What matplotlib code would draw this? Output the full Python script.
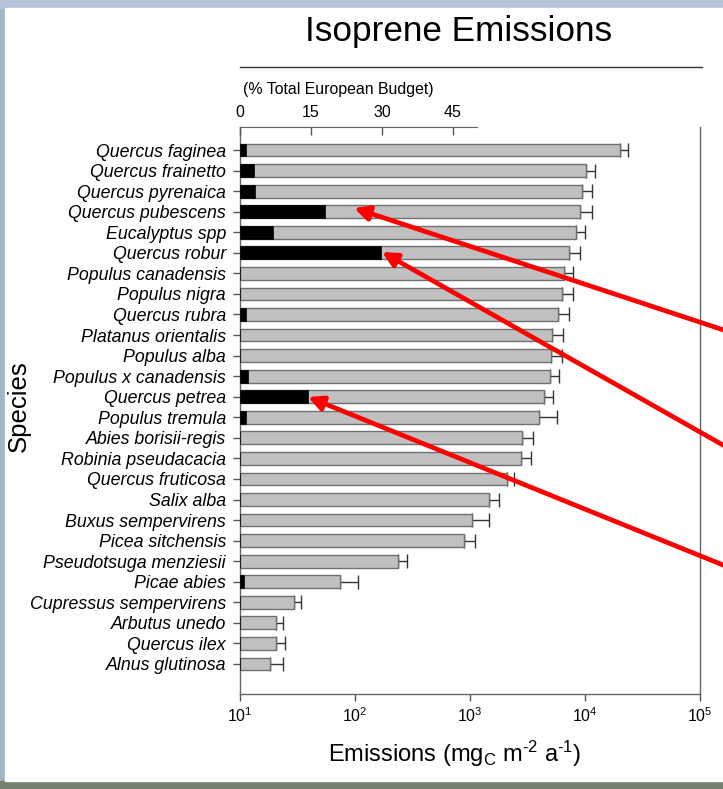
import numpy as np
import matplotlib
matplotlib.use("Agg")
import matplotlib.pyplot as plt
from matplotlib.patches import Rectangle
from matplotlib.lines import Line2D

plt.rcParams['font.family'] = ['Liberation Sans', 'DejaVu Sans']
plt.rcParams['mathtext.fontset'] = 'custom'
plt.rcParams['mathtext.rm'] = 'Liberation Sans'
plt.rcParams['mathtext.it'] = 'Liberation Sans:italic'

species = ["Quercus faginea", "Quercus frainetto", "Quercus pyrenaica", "Quercus pubescens",
           "Eucalyptus spp", "Quercus robur", "Populus canadensis", "Populus nigra",
           "Quercus rubra", "Platanus orientalis", "Populus alba", "Populus x canadensis",
           "Quercus petrea", "Populus tremula", "Abies borisii-regis", "Robinia pseudacacia",
           "Quercus fruticosa", "Salix alba", "Buxus sempervirens", "Picea sitchensis",
           "Pseudotsuga menziesii", "Picae abies", "Cupressus sempervirens", "Arbutus unedo",
           "Quercus ilex", "Alnus glutinosa"]
emissions = [20100, 10200, 9360, 9130, 8420, 7320, 6610, 6310, 5820, 5170, 5100, 4930,
             4370, 4010, 2850, 2780, 2110, 1470, 1035, 893, 237, 74, 29.5, 20.7, 20.7, 18.1]
emissions_upper = [23850, 12200, 11400, 11400, 10000, 9050, 7810, 7810, 7320, 6480, 6270, 5990,
                   5310, 5750, 3560, 3390, 2430, 1790, 1460, 1100, 285, 107, 33.7, 23.7, 24.8, 23.5]
budget_pct = [1.3, 3.0, 3.2, 17.9, 6.9, 29.8, 0, 0, 1.3, 0, 0, 1.7, 14.3, 1.3,
              0, 0, 0, 0, 0, 0, 0, 0.85, 0, 0, 0, 0]
pct_ticks = [0, 15, 30, 45]
log_ticks = [10, 100, 1000, 10000, 100000]

W, H = 723, 789
fig = plt.figure(figsize=(W / 100, H / 100), dpi=100, facecolor='#a3b3c8')

def px_rect(x0, y0, x1, y1, color):
    fig.patches.append(Rectangle((x0 / W, 1 - y1 / H), (x1 - x0) / W, (y1 - y0) / H,
                                 transform=fig.transFigure, color=color, zorder=-10))

px_rect(0, 781, W, H, '#74816e')
px_rect(0, 0, W, 8, '#b7c3d6')
px_rect(5, 8, W, 781, 'white')

ax = fig.add_axes([240 / W, 1 - 694 / H, 460 / W, (694 - 127) / H])
ax.set_facecolor('none')
pos = np.arange(len(species))
em = np.array(emissions)
err = np.array(emissions_upper) - em

ax.barh(pos, em, left=0, height=0.62, color='#c0c0c0', edgecolor='#707070', linewidth=1.0, zorder=2)
ax.errorbar(em, pos, xerr=[np.zeros_like(em), err], fmt='none', ecolor='#333333',
            elinewidth=1.0, capsize=5, capthick=1.0, zorder=1)
ax.set_xscale('log')
ax.set_xlim(10, 100000)
ax.set_ylim(26.46, -1.12)
ax.set_xticks(log_ticks)
ax.xaxis.set_minor_locator(matplotlib.ticker.NullLocator())
ax.set_yticks(pos)
ax.set_yticklabels(species, fontstyle='italic', fontsize=12.8)
ax.tick_params(axis='y', direction='out', length=5, width=1, color='#555555', pad=5)
ax.tick_params(axis='x', direction='out', length=5, width=1, color='#555555', pad=4, labelsize=11.5)
for s in ['left', 'bottom', 'right']:
    ax.spines[s].set_color('#666666')
    ax.spines[s].set_linewidth(1.0)
ax.spines['top'].set_visible(False)

ax.set_xlabel(r'Emissions (mg$_\mathdefault{C}$ m$^\mathdefault{\text{-}2}$ a$^\mathdefault{\text{-}1}$)',
              fontsize=17)
ax.xaxis.set_label_coords((455 - 240) / 460, (694 - 739) / 567)
ax.set_ylabel('Species', fontsize=18.5)
ax.yaxis.label.set_va('center')
ax.yaxis.set_label_coords((19 - 240) / 460, (694 - 406) / 567)

ax2 = ax.twiny()
ax2.set_facecolor('none')
ax2.barh(pos, budget_pct, height=0.62, color='black', edgecolor='black', linewidth=0.5, zorder=3)
ax2.set_xlim(0, 460 * 15 / 71)
ax2.set_xticks(pct_ticks)
ax2.tick_params(axis='x', direction='in', length=6, width=1, color='#555555', pad=5, labelsize=11.5)
for s in ['left', 'bottom', 'right']:
    ax2.spines[s].set_visible(False)
ax2.spines['top'].set_bounds(0, 50)
ax2.spines['top'].set_color('#666666')
ax2.set_xlabel('(% Total European Budget)', fontsize=11.4, loc='left')
ax2.xaxis.set_label_coords((243 - 240) / 460, (694 - 94) / 567)
ax2.xaxis.label.set_ha('left')

fig.text(459 / W, 1 - 32 / H, 'Isoprene Emissions', fontsize=25.3, ha='center', va='center')
fig.lines.append(Line2D([240 / W, 702 / W], [1 - 67 / H, 1 - 67 / H], transform=fig.transFigure,
                        color='#333333', linewidth=1.0))

arrows = [((354, 208), (760, 342)), ((382, 252), (760, 466)), ((308, 397), (760, 580))]
for (hx, hy), (tx, ty) in arrows:
    fig.add_artist(matplotlib.patches.FancyArrowPatch(
        (tx / W, 1 - ty / H), (hx / W, 1 - hy / H), transform=fig.transFigure,
        arrowstyle='-|>', mutation_scale=22, color='#ff0000', linewidth=3.4,
        shrinkA=0, shrinkB=0, zorder=10))

fig.savefig('out.png', dpi=100, facecolor=fig.get_facecolor())
